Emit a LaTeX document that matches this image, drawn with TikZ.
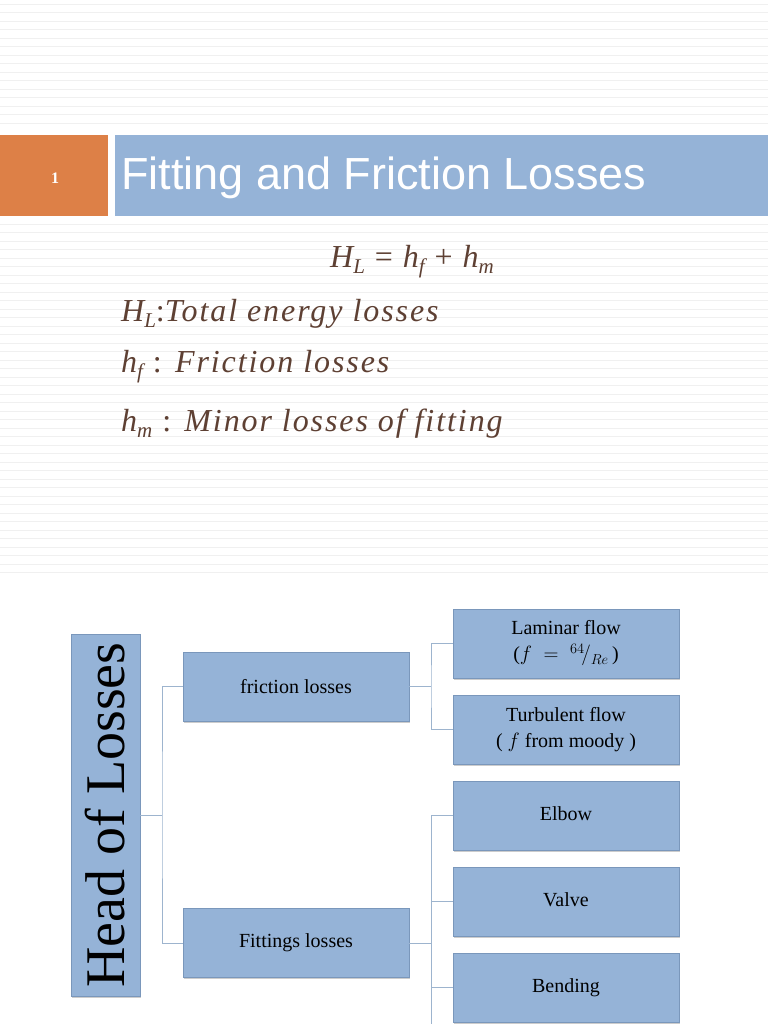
\documentclass[tikz,border=0pt]{standalone}
\usepackage{fontspec}
\setmainfont{Liberation Serif}
\newfontfamily\hsans{Liberation Sans}
\newfontfamily\eqf[LetterSpace=6]{Liberation Serif}
\usetikzlibrary{shadows}
\definecolor{bxfill}{HTML}{95B3D7}
\definecolor{bxline}{HTML}{7A97BB}
\definecolor{orng}{HTML}{DD8047}
\definecolor{eqc}{HTML}{5E4033}
\definecolor{conn}{HTML}{9DB4CE}
\newcommand{\sbx}[1]{\raisebox{-6pt}{\fontsize{21}{22}\selectfont #1}}
\tikzset{
 bx/.style={draw=bxline,fill=bxfill,minimum width=226pt,minimum height=69pt,inner sep=0pt,font=\fontsize{20}{26}\selectfont,align=center,drop shadow={shadow xshift=1pt,shadow yshift=-1.5pt,opacity=0.4}},
 cn/.style={draw=conn,line width=0.8pt},
 eq/.style={text=eqc,anchor=west,font=\eqf\itshape\fontsize{32}{36}\selectfont,inner sep=0pt}
}
\begin{document}
\begin{tikzpicture}[x=1pt,y=-1pt]
\useasboundingbox (0,0) rectangle (768,1024);
\fill[white] (0,0) rectangle (768,1024);
\foreach \y in {4,12.5,...,130} {\draw[black!6,line width=0.8pt] (0,\y) -- (768,\y);}
\foreach \y in {224,232.5,...,575} {\draw[black!6,line width=0.8pt] (0,\y) -- (768,\y);}
\fill[orng] (0,135) rectangle (108,216);
\fill[bxfill] (115,135) rectangle (768,216);
\node[text=white,font=\bfseries\fontsize{16}{18}\selectfont] (num) at (55,178) {1};
\node[text=white,anchor=west,inner sep=0pt,font=\hsans\fontsize{45}{48}\selectfont] (title) at (121,178) {Fitting and Friction Losses};
\node[eq,anchor=center] (e1) at (412,262) {H\sbx{L} {\upshape=} h\sbx{f} {\upshape+} h\sbx{m}};
\node[eq] (e2) at (121,314) {H\sbx{L}{\upshape:}Total energy losses};
\node[eq] (e3) at (121,367) {h\sbx{f} {\upshape:} Friction losses};
\node[eq] (e4) at (121,424) {h\sbx{m} {\upshape:} Minor losses of fitting};
% tree
\node[bx,minimum width=69pt,minimum height=362pt] (head) at (105.5,815) {};
\node[rotate=90,font=\fontsize{56}{60}\selectfont] (headt) at (105.5,815) {Head of Losses};
\node[bx] (fr) at (296,686.5) {friction losses};
\node[bx] (fi) at (296,943) {Fittings losses};
\node[bx] (lam) at (566,643.5) {Laminar flow\\($f\;=\;{}^{64}\!/_{Re}$\,)};
\node[bx] (tur) at (566,729.5) {Turbulent flow\\( $f$ from moody )};
\node[bx,text depth=4pt] (elb) at (566,815.5) {Elbow};
\node[bx,text depth=4pt] (val) at (566,901.5) {Valve};
\node[bx,text depth=4pt] (ben) at (566,987.5) {Bending};
\coordinate (hj) at (162,815);
\coordinate (fj) at (431,686.5);
\coordinate (gj) at (431,943);
\coordinate (gend) at (431,1024);
\draw[cn] (head.east) -- (hj);
\draw[cn] (fr.west) -| (hj) |- (fi.west);
\draw[cn] (fr.east) -- (fj);
\draw[cn] (lam.west) -| (fj) |- (tur.west);
\draw[cn] (fi.east) -- (gj);
\draw[cn] (elb.west) -| (gend);
\draw[cn] (val.west) -- (val.west -| gj);
\draw[cn] (ben.west) -- (ben.west -| gj);
\end{tikzpicture}
\end{document}
